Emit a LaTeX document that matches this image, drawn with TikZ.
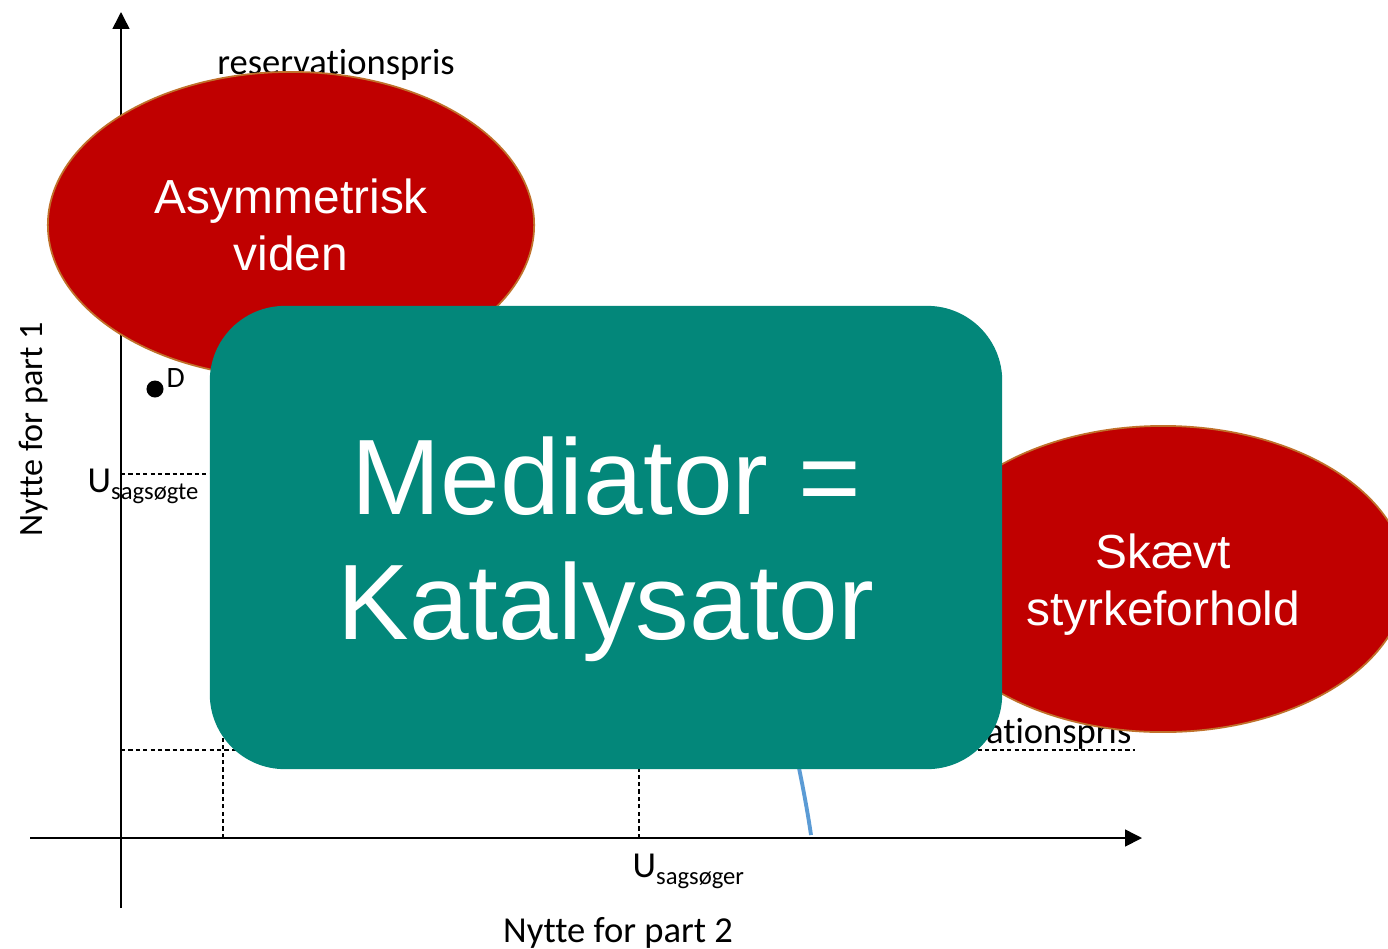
\documentclass[tikz,border=0pt]{standalone}
\usepackage{fontspec}
\setmainfont{Carlito}[Ligatures=NoCommon]
\newfontfamily\arialfont{Liberation Sans}
\usetikzlibrary{arrows.meta,shapes.geometric,positioning}
\definecolor{barrierred}{HTML}{C00000}
\definecolor{barrierrim}{HTML}{C0712B}
\definecolor{mediatorteal}{HTML}{03877A}
\definecolor{curveblue}{HTML}{5B9BD5}
\newcommand{\idx}[1]{\raisebox{-2pt}{\fontsize{7}{8}\selectfont #1}}

\begin{document}
\begin{tikzpicture}[x=0.01cm,y=-0.01cm,font=\fontsize{10.4}{12}\selectfont,
  axis/.style={line width=0.45pt,-{Triangle[length=4.8pt,width=4.8pt]}},
  guide/.style={line width=0.3pt,dash pattern=on 1.2pt off 0.9pt},
  tag/.style={inner sep=0pt},
  barrier/.style={ellipse,fill=barrierred,draw=barrierrim,line width=0.5pt,
    minimum width=4.86cm,minimum height=3.06cm,inner sep=0pt},
  barriertext/.style={text=white,align=center,
    font=\arialfont\fontsize{13.6}{16.2}\selectfont},
  mediator/.style={rectangle,rounded corners=0.75cm,fill=mediatorteal,
    minimum width=7.92cm,minimum height=4.63cm},
  mediatortext/.style={text=white,align=center,
    font=\arialfont\fontsize{30.5}{35.5}\selectfont}]

\useasboundingbox (0,0) rectangle (1388,948);

% akser
\coordinate (ytop) at (121,12);
\coordinate (ybot) at (121,908);
\coordinate (xleft) at (30,838);
\coordinate (xright) at (1142,838);
\draw[axis] (ybot) -- (ytop);
\draw[axis] (xleft) -- (xright);

% hjaelpelinjer
\coordinate (usg) at (121,474);
\coordinate (usgend) at (400,474);
\coordinate (rp) at (121,750);
\coordinate (rpend) at (1135,750);
\coordinate (ua) at (223,838);
\coordinate (uatop) at (223,600);
\coordinate (ub) at (639,838);
\coordinate (ubtop) at (639,600);
\draw[guide] (usg) -- (usgend);
\draw[guide] (rp) -- (rpend);
\draw[guide] (ua) -- (uatop);
\draw[guide] (ub) -- (ubtop);

% kurve
\coordinate (c1) at (760,600);
\coordinate (c2) at (811,835);
\draw[curveblue,line width=1.1pt] (c1) .. controls (785,700) and (803,780) .. (c2);

% punkt og tekster
\node[circle,fill,inner sep=0pt,minimum size=0.17cm] (D) at (155,389) {};
\node[tag,anchor=base west,font=\fontsize{8.4}{10}\selectfont] (Dlabel) at (166,387) {D};
\node[tag,anchor=base west] (Usgte) at (87,492) {U\idx{sagsøgte}};
\node[tag,anchor=base west] (Usger) at (632,877) {U\idx{sagsøger}};
\node[tag,anchor=base] (rp1) at (336,74) {reservationspris};
\node[tag,anchor=base east] (rp2) at (1132,743) {reservationspris};
\node[tag,anchor=base] (xlab) at (618,942) {Nytte for part 2};
\node[tag,rotate=90,anchor=base,font=\fontsize{9.7}{12}\selectfont] (ylab) at (42,429) {Nytte for part 1};

% barrierer og mediator
\node[barrier] (asym) at (291,225) {};
\node[barriertext] (asymtext) at (asym.center) {Asymmetrisk\\viden};
\node[barrier] (skaev) at (1163,579) {};
\node[barriertext] (skaevtext) at ([yshift=-1.7pt]skaev.center) {Skævt\\styrkeforhold};
\node[mediator] (kat) at (606,537.5) {};
\node[mediatortext] (kattext) at ([yshift=-3.4pt]kat.center) {Mediator =\\Katalysator};

\end{tikzpicture}
\end{document}
